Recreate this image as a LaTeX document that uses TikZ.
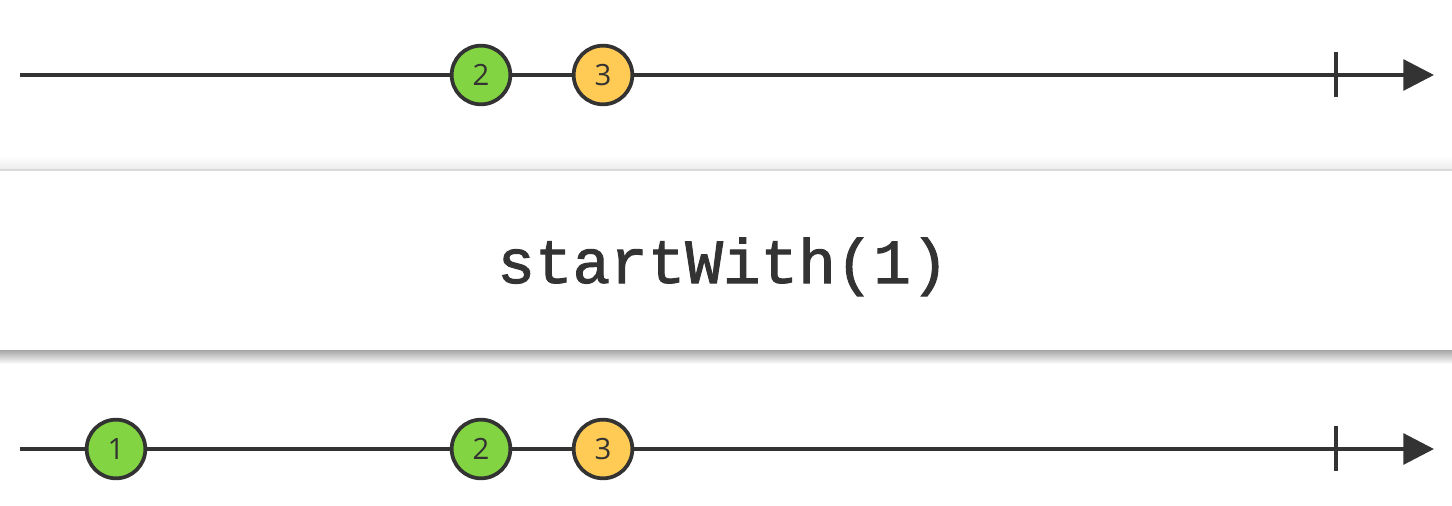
\documentclass[tikz,border=0pt]{standalone}
\usepackage{fontspec}
\usetikzlibrary{arrows.meta}
\newfontfamily\opfont[FakeBold=1.6]{Liberation Mono}
\newfontfamily\marblefont{Open Sans}
\definecolor{ink}{RGB}{51,51,51}
\definecolor{marblegreen}{RGB}{130,212,66}
\definecolor{marbleyellow}{RGB}{255,203,84}
\tikzset{
  timeline/.style={draw=ink,line width=3pt,-{Triangle[length=23pt,width=23pt]}},
  marble/.style={circle,draw=ink,line width=2.8pt,minimum size=44pt,inner sep=0pt,
    text=ink,font=\marblefont\fontsize{22}{22}\selectfont},
  endtick/.style={draw=ink,line width=3pt}
}
\begin{document}
\begin{tikzpicture}[x=0.75pt,y=0.75pt,yscale=-1,xscale=1]
\useasboundingbox (0,0) rectangle (1452,506);

%Shape: Rectangle [id:operator box]
\shade [top color=white,bottom color=black!8] (0,156) rectangle (1452,170);
\fill [white] (0,170) rectangle (1452,350);
\draw [draw=black!15,line width=1.5pt] (0,170) -- (1452,170);
\shade [top color=black!35,bottom color=white] (0,350) rectangle (1452,364);
\node [anchor=base,text=ink,font=\opfont\fontsize{47}{47}\selectfont] (op) at (723,283) {startWith(1)};

%Straight Lines [id:source timeline]
\coordinate (srcstart) at (20,75);
\coordinate (srcend) at (1434,75);
\coordinate (srctop) at (1336,52);
\coordinate (srcbot) at (1336,97);
\draw [timeline] (srcstart) -- (srcend);
\draw [endtick] (srctop) -- (srcbot);
%Shape: Ellipse [id:source marbles]
\node [marble,fill=marblegreen] (src2) at (481,75) {2};
\node [marble,fill=marbleyellow] (src3) at (603,75) {3};

%Straight Lines [id:result timeline]
\coordinate (resstart) at (20,449);
\coordinate (resend) at (1434,449);
\coordinate (restop) at (1336,426);
\coordinate (resbot) at (1336,471);
\draw [timeline] (resstart) -- (resend);
\draw [endtick] (restop) -- (resbot);
%Shape: Ellipse [id:result marbles]
\node [marble,fill=marblegreen] (res1) at (116,449) {1};
\node [marble,fill=marblegreen] (res2) at (481,449) {2};
\node [marble,fill=marbleyellow] (res3) at (603,449) {3};

\end{tikzpicture}
\end{document}
